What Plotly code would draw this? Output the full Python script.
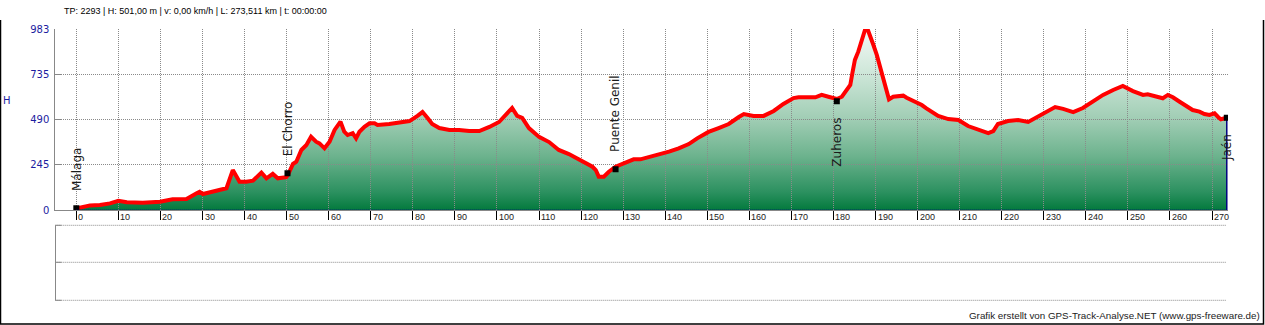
import plotly.graph_objects as go

# ---------------- data ----------------
dist_km = [0.0, 3.25, 5.6, 8.0, 10.0, 12.0, 15.8, 19.9, 22.9, 26.2, 28.6, 29.3, 30.1, 33.3, 35.7,
           37.2, 38.8, 40.4, 42.0, 44.0, 45.2, 46.7, 47.9, 49.9, 50.3, 51.5, 52.3, 53.5, 54.7, 55.8,
           57.0, 57.8, 59.0, 60.2, 61.4, 62.8, 63.7, 64.5, 65.7, 66.5, 67.3, 68.5, 69.7, 70.9, 71.6,
           74.4, 76.8, 79.2, 81.1, 82.3, 83.5, 84.6, 86.3, 88.7, 91.0, 93.4, 95.8, 98.2, 100.5, 102.4,
           103.6, 104.8, 106.0, 107.6, 110.0, 112.4, 114.7, 117.1, 119.5, 121.1, 122.7, 123.5, 124.2,
           125.4, 126.6, 128.2, 130.6, 132.5, 134.1, 136.1, 138.5, 140.9, 143.2, 145.6, 147.6, 150.3,
           152.7, 155.1, 157.5, 158.7, 161.0, 163.4, 165.8, 168.1, 170.5, 171.7, 175.7, 177.2, 178.8,
           180.8, 182.0, 183.2, 184.0, 184.5, 185.1, 185.9, 186.7, 187.5, 188.1, 188.7, 189.5, 190.3,
           191.1, 191.9, 192.4, 193.2, 194.2, 195.4, 196.6, 197.4, 198.6, 199.8, 201.0, 202.1, 204.9,
           207.3, 209.7, 212.0, 214.4, 216.8, 218.0, 219.1, 221.5, 223.9, 226.3, 228.6, 231.0, 232.7,
           234.6, 237.0, 239.3, 241.7, 244.1, 246.5, 248.8, 251.2, 253.6, 254.7, 257.1, 258.3, 259.5,
           260.7, 262.3, 263.8, 265.4, 267.0, 268.2, 269.4, 270.6, 271.5, 272.1, 273.511]
elev_m = [8, 25, 27, 36, 50, 42, 40, 45, 58, 60, 91, 99, 87, 103, 118,
          217, 154, 154, 159, 203, 172, 196, 172, 178, 190, 250, 262, 326, 353, 398,
          371, 362, 335, 371, 435, 480, 425, 407, 417, 389, 425, 452, 471, 471, 462,
          467, 473, 483, 511, 532, 500, 467, 445, 435, 435, 429, 429, 451, 478, 521,
          554, 511, 500, 445, 397, 369, 326, 304, 272, 254, 235, 217, 181,
          181, 208, 235, 257, 275, 275, 286, 299, 317, 335, 358, 389, 424,
          445, 467, 505, 521, 511, 511, 538, 576, 608, 612, 612, 625, 615,
          603, 615, 652, 679, 743, 815, 860, 914, 978, 983, 951, 896, 842,
          770, 697, 661, 601, 615, 619, 621, 610, 597, 583, 570, 552, 511,
          494, 489, 456, 435, 418, 429, 467, 483, 489, 478, 505, 538, 559,
          549, 532, 554, 592, 625, 652, 674, 646, 625, 628, 612, 607, 625,
          612, 588, 565, 543, 534, 521, 516, 525, 504, 493, 501]

wp_names = ["Málaga", "El Chorro", "Puente Genil", "Zuheros", "Jaén"]
wp_km = [0.0, 50.2, 128.2, 180.8, 273.511]
wp_elev = [10, 199, 221, 590, 501]
wp_above = [True, True, True, False, False]

x_tick_vals = list(range(0, 271, 10))
x_tick_text = [str(v) for v in x_tick_vals]
y_tick_vals = [0, 245, 490, 735, 983]
y_tick_text = ["0", "245", "490", "735", "983"]

header_text = "TP: 2293 | H: 501,00 m | v: 0,00 km/h | L: 273,511 km | t: 00:00:00"
footer_text = "Grafik erstellt von GPS-Track-Analyse.NET (www.gps-freeware.de)"
y_title = "H"

# ---------------- layout helpers ----------------
W, H = 1265, 325


def fx(p):
    return p / W


def fy(p):
    return 1 - p / H


X_DOM = [fx(55.3), fx(1228)]
Y_DOM = [fy(210), fy(29)]
XR = [-5, 273.8]
YR = [0, 983]

GRID = "#8a8a8a"
NAVY = "#1c1ca0"

fig = go.Figure()

# gradient fill (subplot xy, below the grid subplot)
fig.add_trace(go.Scatter(
    x=dist_km, y=elev_m, mode="lines", line=dict(width=0, color="rgba(0,0,0,0)"),
    fill="tozeroy",
    fillgradient=dict(type="vertical", start=0, stop=983,
                      colorscale=[[0, "#037a3d"], [0.1, "#2c9160"], [0.3, "#6db38e"],
                                  [0.5, "#a0cdb4"], [0.75, "#cde6d8"], [1, "#f3f9f5"]]),
    xaxis="x", yaxis="y", showlegend=False, hoverinfo="skip"))

# red profile line (subplot x3y3, above grid)
fig.add_trace(go.Scatter(
    x=dist_km, y=elev_m, mode="lines", line=dict(color="#ff0000", width=4),
    xaxis="x3", yaxis="y3", showlegend=False, hoverinfo="skip"))

# waypoint markers
fig.add_trace(go.Scatter(
    x=wp_km, y=wp_elev, mode="markers",
    marker=dict(symbol="square", size=6, color="#000000"),
    cliponaxis=True, xaxis="x3", yaxis="y3", showlegend=False, hoverinfo="skip"))

annotations = []
for name, k, e, above in zip(wp_names, wp_km, wp_elev, wp_above):
    annotations.append(dict(
        x=k, y=e, xref="x3", yref="y3", text=name, showarrow=False, textangle=-90,
        xanchor="center", yanchor="bottom" if above else "top",
        yshift=15 if above else -14,
        font=dict(family="DejaVu Sans", size=12, color="#1a1a1a")))

# x tick labels: left-aligned next to each tick mark
for v, t in zip(x_tick_vals, x_tick_text):
    annotations.append(dict(
        x=v, y=0, xref="x3", yref="y3", text=t, showarrow=False,
        xanchor="left", yanchor="top", xshift=1, yshift=-1, borderpad=0,
        font=dict(family="Liberation Sans", size=9, color="#222222")))

annotations.append(dict(x=fx(62), y=fy(11.5), xref="paper", yref="paper", text=header_text,
                        showarrow=False, xanchor="left", yanchor="middle",
                        font=dict(family="Liberation Sans", size=9, color="#000000")))
annotations.append(dict(x=fx(7), y=fy(100), xref="paper", yref="paper", text=y_title,
                        showarrow=False, xanchor="center", yanchor="middle",
                        font=dict(family="DejaVu Sans", size=10, color=NAVY)))
annotations.append(dict(x=fx(1262), y=fy(315), xref="paper", yref="paper", text=footer_text,
                        showarrow=False, xanchor="right", yanchor="middle",
                        font=dict(family="Liberation Sans", size=9.8, color="#222222")))

# lower (empty) panel: three dotted guide lines and a grey left edge
lower_rows_px = [225.3, 262.3, 300.3]
shapes = []
for ypx in lower_rows_px:
    shapes.append(dict(type="line", xref="paper", yref="paper",
                       x0=fx(55.3), x1=fx(1226), y0=fy(ypx), y1=fy(ypx),
                       line=dict(color=GRID, width=1, dash="1px,1px"), layer="above"))
    shapes.append(dict(type="line", xref="paper", yref="paper",
                       x0=fx(55.3), x1=fx(61.5), y0=fy(ypx), y1=fy(ypx),
                       line=dict(color="#888888", width=1), layer="above"))
shapes.append(dict(type="line", xref="paper", yref="paper",
                   x0=fx(55.5), x1=fx(55.5), y0=fy(lower_rows_px[0]), y1=fy(lower_rows_px[-1]),
                   line=dict(color="#888888", width=1), layer="above"))

shapes += [
    # dotted navy baseline of the profile polygon
    dict(type="line", xref="x3", yref="y3", x0=dist_km[0], x1=dist_km[-1], y0=0, y1=0,
         line=dict(color="#000080", width=1, dash="1px,1px"), layer="above"),
    # navy closing edge at the end of the track
    dict(type="line", xref="x3", yref="y3", x0=dist_km[-1], x1=dist_km[-1], y0=0, y1=elev_m[-1],
         line=dict(color="#000080", width=1.5), layer="below"),
    # outer frame (left, bottom, right)
    dict(type="path", xref="paper", yref="paper",
         path=f"M {fx(0.5)},{fy(20)} L {fx(0.5)},{fy(324)} L {fx(1263.5)},{fy(324)} L {fx(1263.5)},{fy(20)}",
         line=dict(color="#000000", width=1.5), layer="above"),
]

fig.update_layout(
    width=W, height=H,
    margin=dict(l=0, r=0, t=0, b=0, pad=0),
    paper_bgcolor="#ffffff", plot_bgcolor="rgba(0,0,0,0)",
    showlegend=False, hovermode=False,
    xaxis=dict(domain=X_DOM, range=XR, visible=False, anchor="y", fixedrange=True),
    yaxis=dict(domain=Y_DOM, range=YR, visible=False, anchor="x", fixedrange=True),
    xaxis3=dict(domain=X_DOM, range=XR, anchor="y3",
                tickmode="array", tickvals=x_tick_vals, ticktext=x_tick_text,
                showticklabels=False, showspikes=False,
                showgrid=True, gridcolor=GRID, gridwidth=1, griddash="1px,1px",
                zeroline=False, showline=True, linecolor="#888888", linewidth=1,
                ticks="outside", ticklen=9, tickcolor="#000000", tickwidth=1,
                automargin=False),
    yaxis3=dict(domain=Y_DOM, range=YR, anchor="x3",
                tickmode="array", tickvals=y_tick_vals, ticktext=y_tick_text,
                showgrid=True, gridcolor=GRID, gridwidth=1, griddash="1px,1px",
                zeroline=False, showline=True, linecolor="#888888", linewidth=1,
                ticks="inside", ticklen=6, tickcolor="#888888", showspikes=False,
                ticklabelstandoff=3,
                tickfont=dict(family="DejaVu Sans", size=10, color=NAVY),
                automargin=False),
    annotations=annotations,
    shapes=shapes,
)

fig.write_html("out.html")
